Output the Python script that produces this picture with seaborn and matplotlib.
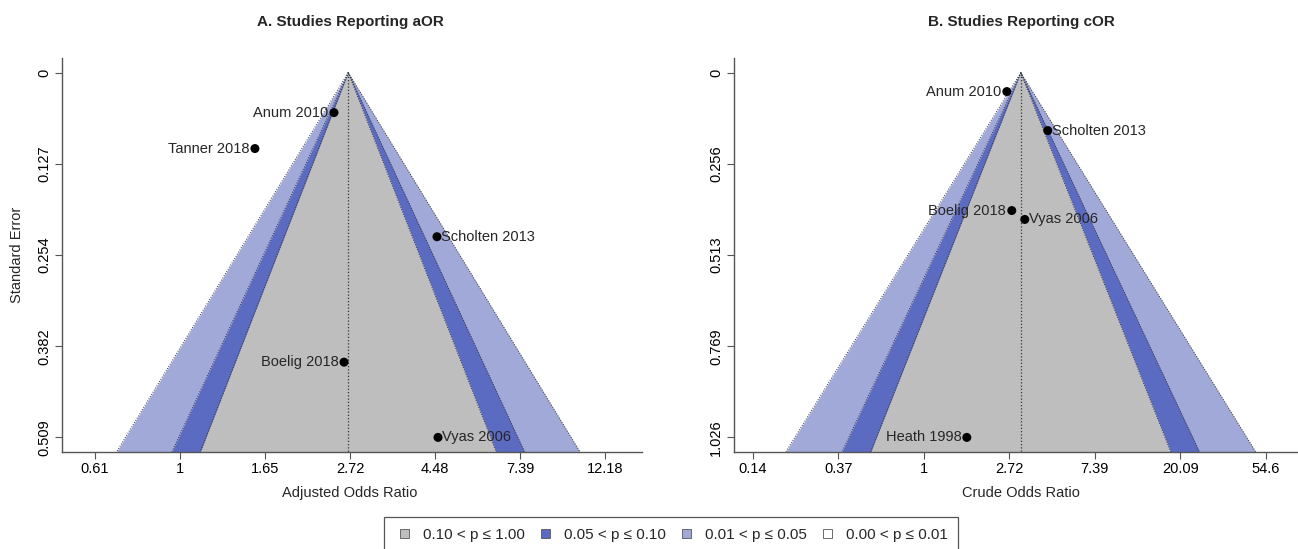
import numpy as np
import pandas as pd
import matplotlib
matplotlib.use("Agg")
import matplotlib.pyplot as plt
from matplotlib.patches import Patch, Rectangle
import seaborn as sns

# ---------------- data (log odds ratio, standard error) ----------------
a_studies = ["Anum 2010", "Tanner 2018", "Scholten 2013", "Boelig 2018", "Vyas 2006"]
a_logor = [0.906, 0.441, 1.512, 0.965, 1.518]
a_se = [0.0558, 0.106, 0.229, 0.404, 0.509]
a_pos = ["left", "left", "right", "left", "right"]
a_center = 0.99

b_studies = ["Anum 2010", "Scholten 2013", "Boelig 2018", "Vyas 2006", "Heath 1998"]
b_logor = [0.971, 1.450, 1.029, 1.181, 0.503]
b_se = [0.0534, 0.163, 0.388, 0.413, 1.026]
b_pos = ["left", "right", "left", "right", "left"]
b_center = 1.134

a_xticks = [-0.5, 0.0, 0.5, 1.0, 1.5, 2.0, 2.5]
a_xticklabels = ["0.61", "1", "1.65", "2.72", "4.48", "7.39", "12.18"]
b_xticks = [-2.0, -1.0, 0.0, 1.0, 2.0, 3.0, 4.0]
b_xticklabels = ["0.14", "0.37", "1", "2.72", "7.39", "20.09", "54.6"]
a_yticklabels = ["0", "0.127", "0.254", "0.382", "0.509"]
b_yticklabels = ["0", "0.256", "0.513", "0.769", "1.026"]

legend_labels = ["0.10 < p \u2264 1.00", "0.05 < p \u2264 0.10",
                 "0.01 < p \u2264 0.05", "0.00 < p \u2264 0.01"]
contour_z = [2.576, 1.960, 1.645]          # 0.01, 0.05, 0.10 levels
contour_cols = ["#A1A9D9", "#5B6BC2", "#BEBEBE"]

sns.set_style("white")
plt.rcParams["font.family"] = ["Liberation Sans", "DejaVu Sans"]

W, H = 1298, 549
fig = plt.figure(figsize=(W / 100, H / 100), dpi=100)


def px_axes(l, r, t, b):
    return fig.add_axes([l / W, 1 - b / H, (r - l) / W, (b - t) / H])


axA = px_axes(62, 642, 58, 452)
axB = px_axes(734, 1297, 58, 452)

dot = (0, (1, 1.6))


def draw_panel(ax, studies, logor, se, pos, center, xlim, xticks, xticklabels,
               yticklabels):
    semax = max(se)
    ylo, yhi = -0.04 * semax, 1.04 * semax
    sev = np.array([0.0, yhi])
    for z, col in zip(contour_z, contour_cols):
        ax.fill_betweenx(sev, center - z * sev, center + z * sev,
                         color=col, lw=0, zorder=1)
    for z in contour_z:
        ax.plot(center - z * sev, sev, color="#333333", lw=0.7, ls=dot, zorder=2)
        ax.plot(center + z * sev, sev, color="#333333", lw=0.7, ls=dot, zorder=2)
    ax.plot([center, center], [0, yhi], color="#333333", lw=0.9, ls=dot, zorder=2)

    df = pd.DataFrame({"logor": logor, "se": se, "study": studies})
    sns.scatterplot(data=df, x="logor", y="se", ax=ax, color="black",
                    s=42, edgecolor="none", zorder=4, legend=False)
    for st, x, y, p in zip(studies, logor, se, pos):
        if p == "left":
            ax.annotate(st, (x, y), xytext=(-4, 0), textcoords="offset points",
                        ha="right", va="center", fontsize=10.5, zorder=5)
        else:
            ax.annotate(st, (x, y), xytext=(3, 0), textcoords="offset points",
                        ha="left", va="center", fontsize=10.5, zorder=5)

    ax.set_xlim(*xlim)
    ax.set_ylim(yhi, ylo)
    ax.set_xticks(xticks)
    ax.set_xticklabels(xticklabels, fontsize=10.5)
    ax.set_yticks(np.linspace(0, semax, 5))
    ax.set_yticklabels(yticklabels, fontsize=10.5, rotation=90, va="center")
    for s in ["top", "right"]:
        ax.spines[s].set_visible(False)
    for s in ["left", "bottom"]:
        ax.spines[s].set_color("#555555")
        ax.spines[s].set_linewidth(1.0)
    ax.tick_params(axis="both", which="major", direction="out", length=5,
                   width=0.8, color="#555555", labelcolor="black",
                   bottom=True, left=True)
    ax.tick_params(axis="x", pad=2)
    ax.tick_params(axis="y", pad=3)
    ax.set_xlabel("")
    ax.set_ylabel("")
    ax.patch.set_facecolor("white")


draw_panel(axA, a_studies, a_logor, a_se, a_pos, a_center, (-0.694, 2.718),
           a_xticks, a_xticklabels, a_yticklabels)
draw_panel(axB, b_studies, b_logor, b_se, b_pos, b_center, (-2.22, 4.365),
           b_xticks, b_xticklabels, b_yticklabels)

fig.text(350 / W, 1 - 22 / H, "A. Studies Reporting aOR", ha="center",
         va="center", fontsize=11, fontweight="bold")
fig.text(1021 / W, 1 - 22 / H, "B. Studies Reporting cOR", ha="center",
         va="center", fontsize=11, fontweight="bold")
fig.text(350 / W, 1 - 493 / H, "Adjusted Odds Ratio", ha="center",
         va="center", fontsize=10.5)
fig.text(1021 / W, 1 - 493 / H, "Crude Odds Ratio", ha="center",
         va="center", fontsize=10.5)
fig.text(17 / W, 1 - 255 / H, "Standard Error", ha="center", va="center",
         fontsize=10.5, rotation=90)

# legend frame
fig.patches.append(Rectangle((384 / W, 1 - 553 / H), (958 - 384) / W, 36 / H,
                             transform=fig.transFigure, facecolor="white",
                             edgecolor="#555555", lw=0.9, zorder=0))
handles = [Patch(facecolor=c, edgecolor="#555555", lw=0.6)
           for c in ["#BEBEBE", "#5B6BC2", "#A1A9D9", "white"]]
leg = fig.legend(handles, legend_labels, loc="center left", ncol=4,
                 bbox_to_anchor=(400 / W, 1 - 535 / H), fontsize=11,
                 frameon=False, borderpad=0, borderaxespad=0,
                 handlelength=0.6, handleheight=0.6, handletextpad=0.88,
                 columnspacing=1.08)

fig.savefig("out.png", dpi=100)
